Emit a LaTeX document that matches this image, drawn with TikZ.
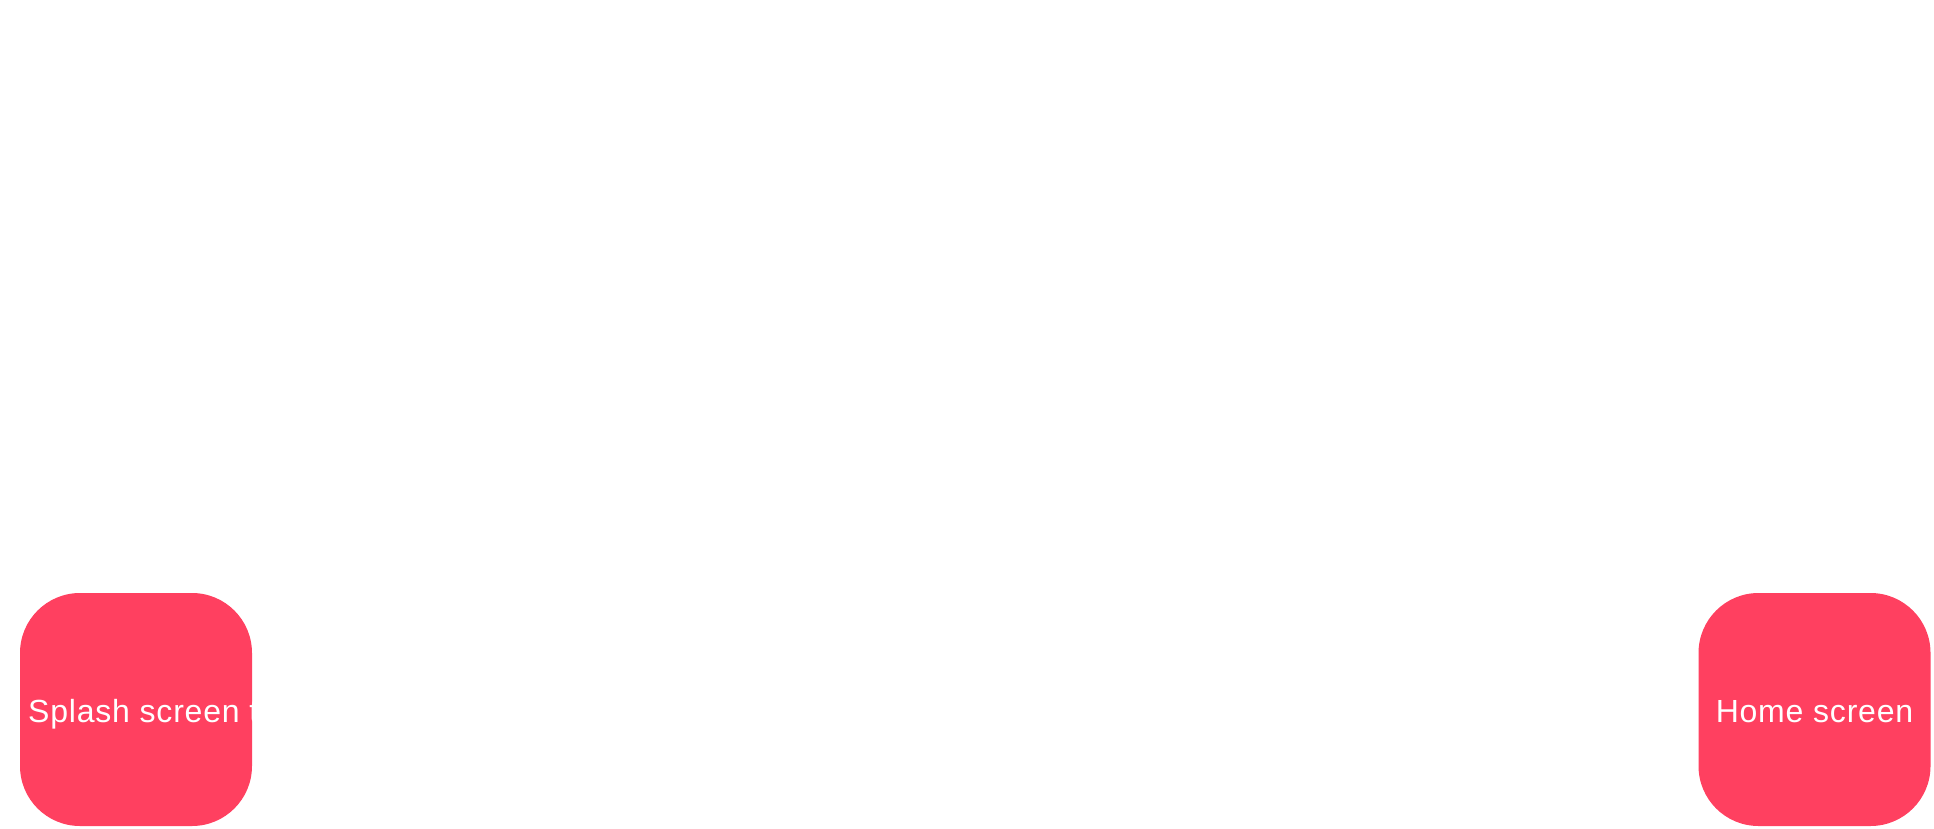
\documentclass[tikz,border=0pt]{standalone}
\usepackage{fontspec}
\setmainfont{Liberation Sans}[LetterSpace=2.5]
\definecolor{screenred}{RGB}{255,64,96}
\begin{document}
\begin{tikzpicture}[x=1pt,y=-1pt,
  screenbox/.style={rectangle, rounded corners=60pt, fill=screenred, draw=none,
    minimum width=232pt, minimum height=233pt, inner sep=0pt},
  screenlabel/.style={text=white, font=\fontsize{32}{38}\selectfont, inner sep=0pt}]
  \fill[white] (0,0) rectangle (1934,829);
  \useasboundingbox (0,0) rectangle (1934,829);
  \node[screenbox] (splash) at (136,709.5) {};
  \node[screenbox] (home) at (1814.5,709.5) {};
  \begin{scope}
    \clip[rounded corners=60pt] (splash.south west) rectangle (splash.north east);
    \node[screenlabel, anchor=base west] (splashlabel) at (28,722.5) {Splash screen to};
  \end{scope}
  \node[screenlabel, anchor=base] (homelabel) at (1814.5,722.5) {Home screen};
\end{tikzpicture}
\end{document}
